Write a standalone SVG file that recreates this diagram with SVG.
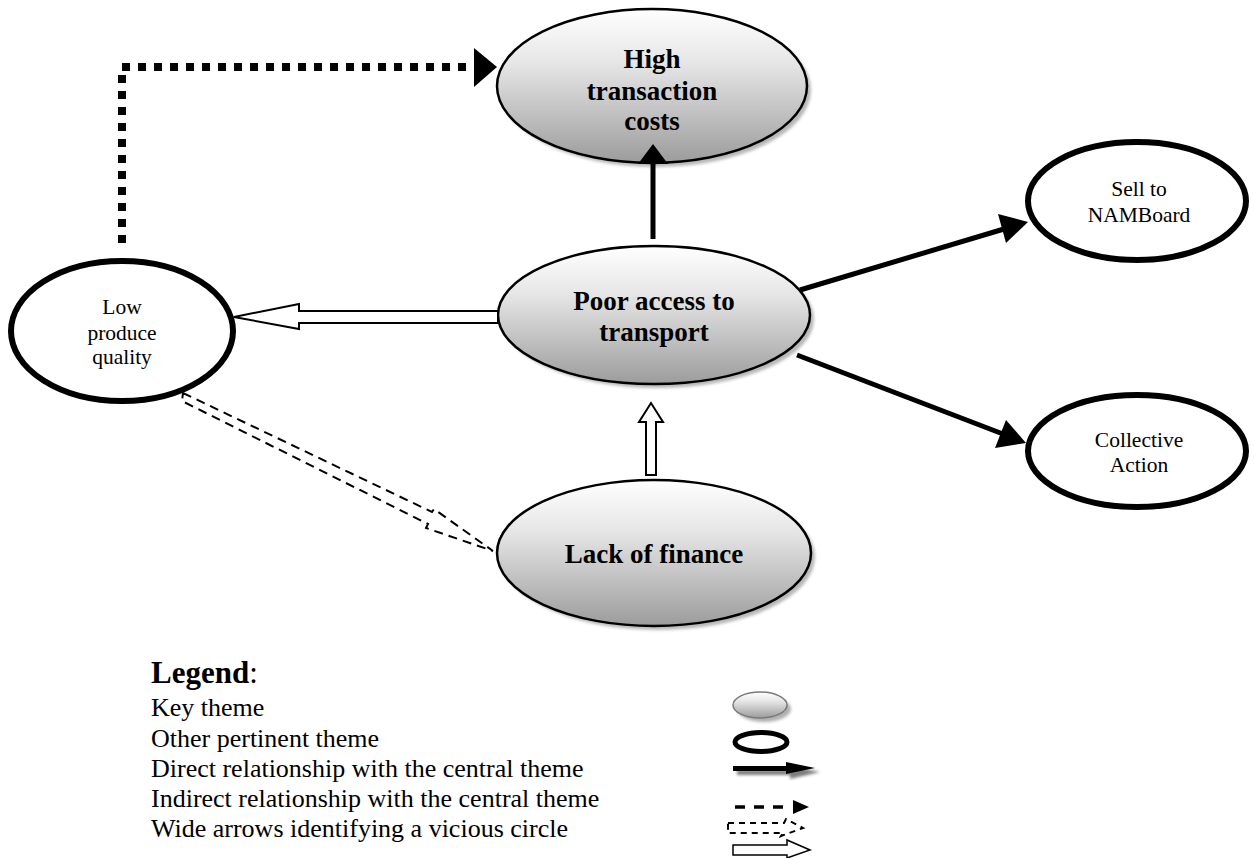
<svg xmlns="http://www.w3.org/2000/svg" width="1254" height="858" viewBox="0 0 1254 858">
  <defs>
    <linearGradient id="keyFill" x1="0" y1="0" x2="0" y2="1">
      <stop offset="0" stop-color="#ffffff"/>
      <stop offset="0.35" stop-color="#e6e6e6"/>
      <stop offset="1" stop-color="#9c9c9c"/>
    </linearGradient>
    <filter id="soft" x="-10%" y="-10%" width="120%" height="120%">
      <feGaussianBlur stdDeviation="1.5"/>
    </filter>
  </defs>
  <style>
    .key { fill: url(#keyFill); stroke: #000; stroke-width: 2.5; }
    .shadow { fill: #b8b8b8; filter: url(#soft); }
    .other { fill: #fff; stroke: #000; stroke-width: 6; }
    .keyText { font-family: "Liberation Serif", "Times New Roman", serif; font-weight: bold; font-size: 27px; fill: #000; text-anchor: middle; }
    .otherText { font-family: "Liberation Serif", "Times New Roman", serif; font-size: 21.5px; fill: #000; text-anchor: middle; }
    .legendText { font-family: "Liberation Serif", "Times New Roman", serif; font-size: 26px; fill: #000; }
    .direct { fill: none; stroke: #000; stroke-width: 5; }
    .wide { fill: #fff; stroke: #000; stroke-width: 2; stroke-linejoin: miter; }
    .wideDash { fill: none; stroke: #000; stroke-width: 2; stroke-dasharray: 9 6; }
  </style>

  <rect width="1254" height="858" fill="#fff"/>

  <!-- nodes -->
  <g id="node-high-costs">
    <ellipse class="shadow" cx="656" cy="90" rx="155" ry="77"/>
    <ellipse class="key" cx="652" cy="86" rx="155" ry="77"/>
    <text class="keyText" x="652" y="68">High</text>
    <text class="keyText" x="652" y="100">transaction</text>
    <text class="keyText" x="652" y="130">costs</text>
  </g>

  <g id="node-poor-access">
    <ellipse class="shadow" cx="658" cy="319" rx="156" ry="69"/>
    <ellipse class="key" cx="654" cy="315" rx="156" ry="69"/>
    <text class="keyText" x="654" y="310">Poor access to</text>
    <text class="keyText" x="654" y="341">transport</text>
  </g>

  <g id="node-lack-finance">
    <ellipse class="shadow" cx="658" cy="557" rx="157" ry="73"/>
    <ellipse class="key" cx="654" cy="553" rx="157" ry="73"/>
    <text class="keyText" x="654" y="563">Lack of finance</text>
  </g>

  <g id="node-low-quality">
    <ellipse class="other" cx="122" cy="331" rx="111" ry="70"/>
    <text class="otherText" x="122" y="314">Low</text>
    <text class="otherText" x="122" y="340">produce</text>
    <text class="otherText" x="122" y="364">quality</text>
  </g>

  <g id="node-sell-namboard">
    <ellipse class="other" cx="1137" cy="201" rx="109" ry="59"/>
    <text class="otherText" x="1139" y="196">Sell to</text>
    <text class="otherText" x="1139" y="222">NAMBoard</text>
  </g>

  <g id="node-collective">
    <ellipse class="other" cx="1137" cy="451" rx="109" ry="56"/>
    <text class="otherText" x="1139" y="447">Collective</text>
    <text class="otherText" x="1139" y="472">Action</text>
  </g>

  <!-- connectors -->
  <g id="connectors">
    <!-- dotted link from low produce quality up to high transaction costs -->
    <polyline points="122,243 122,67 474,67" fill="none" stroke="#000" stroke-width="8" stroke-dasharray="8 8"/>
    <polygon points="474,48 497,67 474,87" fill="#000"/>
    <!-- poor access -> high transaction costs -->
    <line x1="653" y1="239" x2="653" y2="162" class="direct"/>
    <polygon points="638,164 653,144 668,164" fill="#000"/>
    <!-- poor access -> sell to NAMBoard -->
    <line x1="800" y1="290" x2="1004" y2="229" class="direct"/>
    <polygon points="998,214 1028,222 1006,243" fill="#000"/>
    <!-- poor access -> collective action -->
    <line x1="797" y1="355" x2="1003" y2="434" class="direct"/>
    <polygon points="1006,420 1026,443 995,448" fill="#000"/>
    <!-- wide hollow arrow: poor access -> low produce quality -->
    <polygon class="wide" points="498,311 299,311 299,304 234,317 299,329 299,323 498,323"/>
    <!-- wide hollow arrow: lack of finance -> poor access -->
    <polygon class="wide" points="646,475 646,422 639,422 651,403 663,422 656,422 656,475"/>
    <!-- wide dashed arrow between low produce quality and lack of finance -->
    <polygon class="wideDash" points="183,393 432,512 434,509 493,551 426,528 428,524 182,401"/>
  </g>

  <!-- legend -->
  <g id="legend">
    <text class="legendText" x="151" y="683" style="font-size:31px"><tspan font-weight="bold">Legend</tspan>:</text>
    <text class="legendText" x="151" y="716">Key theme</text>
    <text class="legendText" x="151" y="747">Other pertinent theme</text>
    <text class="legendText" x="151" y="777">Direct relationship with the central theme</text>
    <text class="legendText" x="151" y="807">Indirect relationship with the central theme</text>
    <text class="legendText" x="151" y="837">Wide arrows identifying a vicious circle</text>

    <ellipse cx="764" cy="709" rx="27" ry="13" fill="#b0b0b0" filter="url(#soft)"/>
    <ellipse cx="760" cy="705" rx="27" ry="13" fill="url(#keyFill)" stroke="#7a7a7a" stroke-width="1.5"/>
    <ellipse cx="761" cy="742" rx="26" ry="9.5" fill="#fff" stroke="#000" stroke-width="5"/>

    <polygon points="737,770 790,770 790,766 820,772 790,779 790,775 737,775" fill="#7d7d7d" filter="url(#soft)"/>
    <polygon points="733,766 786,766 786,762 815,768 786,774 786,771 733,771" fill="#000"/>

    <line x1="735" y1="807" x2="792" y2="807" stroke="#000" stroke-width="3.5" stroke-dasharray="10 9"/>
    <polygon points="793,800 809,807 793,814" fill="#000"/>

    <polygon class="wideDash" points="728,823 784,823 786,819 803,828 781,836 783,833 728,833" style="stroke-dasharray:6 5"/>

    <polygon class="wide" points="733,845 787,845 787,840 810,850 787,858 787,855 733,855" style="stroke-width:1.5"/>
  </g>
</svg>
